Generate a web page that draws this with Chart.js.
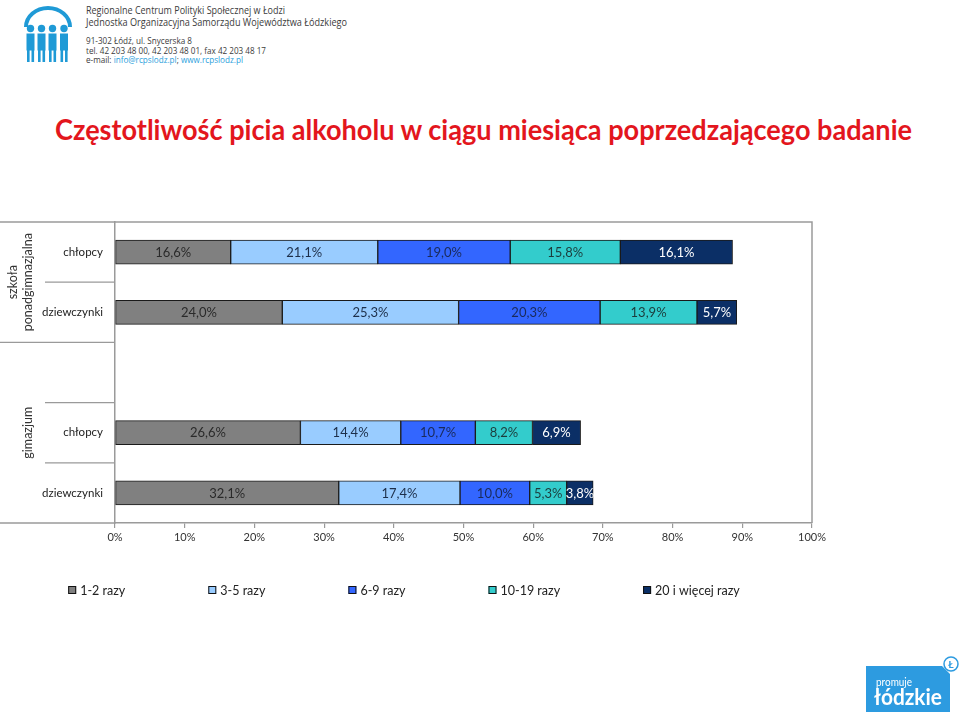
<!DOCTYPE html>
<html><head><meta charset="utf-8">
<script src="https://cdn.jsdelivr.net/npm/chart.js@4.4.0/dist/chart.umd.min.js"></script>
<style>
html,body{margin:0;padding:0;background:#fff;}
#page{position:relative;width:960px;height:716px;overflow:hidden;font-family:Lato,'Open Sans',sans-serif;background:#fff;}
#chartwrap{position:absolute;left:0;top:0;width:960px;height:716px;}
svg{position:absolute;left:0;top:0;}
</style>
</head><body>
<div id="page">
<svg id="header" width="960" height="160" viewBox="0 0 960 160">
  <g fill="#1f9ad6" stroke="none">
    <path d="M26,27 A22,19 0 0 1 70,27" fill="none" stroke="#1f9ad6" stroke-width="4"/>
    <circle cx="30.5" cy="28.5" r="3.7"/><circle cx="41.5" cy="28.5" r="3.7"/><circle cx="52.5" cy="28.5" r="3.7"/><circle cx="64" cy="28.5" r="3.7"/>
    <rect x="26.5" y="33.5" width="8" height="17"/><rect x="37.5" y="33.5" width="8" height="17"/><rect x="48.5" y="33.5" width="8" height="17"/><rect x="60" y="33.5" width="8" height="17"/>
    <rect x="27" y="50" width="2.6" height="12"/><rect x="31.5" y="50" width="2.6" height="12"/>
    <rect x="38" y="50" width="2.6" height="12"/><rect x="42.5" y="50" width="2.6" height="12"/>
    <rect x="49" y="50" width="2.6" height="12"/><rect x="53.5" y="50" width="2.6" height="12"/>
    <rect x="60.5" y="50" width="2.6" height="12"/><rect x="65" y="50" width="2.6" height="12"/>
  </g>
  <g font-family="'Open Sans',Lato,sans-serif" fill="#3c3c3c">
    <text x="86" y="14" font-size="10.5" textLength="199" lengthAdjust="spacingAndGlyphs">Regionalne Centrum Polityki Społecznej w Łodzi</text>
    <text x="86" y="26" font-size="10.5" textLength="261" lengthAdjust="spacingAndGlyphs">Jednostka Organizacyjna Samorządu Województwa Łódzkiego</text>
    <text x="86" y="44" font-size="8.5" textLength="106" lengthAdjust="spacingAndGlyphs">91-302 Łódź, ul. Snycerska 8</text>
    <text x="86" y="53.5" font-size="8.5" textLength="180" lengthAdjust="spacingAndGlyphs">tel.  42 203 48 00, 42 203 48 01, fax 42 203 48 17</text>
    <text x="86" y="63" font-size="8.5" textLength="157" lengthAdjust="spacingAndGlyphs">e-mail: <tspan fill="#2aa0dc">info@rcpslodz.pl</tspan>; <tspan fill="#2aa0dc">www.rcpslodz.pl</tspan></text>
  </g>
  <text x="55" y="140" font-family="Lato,'Open Sans',sans-serif" font-weight="bold" font-size="28.5" fill="#e3161d" textLength="857" lengthAdjust="spacingAndGlyphs">Częstotliwość picia alkoholu w ciągu miesiąca poprzedzającego badanie</text>
</svg>
<div id="chartwrap"><canvas id="c" width="960" height="716"></canvas></div>
<svg width="960" height="716" viewBox="0 0 960 716" style="pointer-events:none">
  <path d="M866,666 L942,666 L950,674 L950,712 L866,712 Z" fill="#2d9be0"/>
  <circle cx="951" cy="664" r="7" fill="#fff" stroke="#2d9be0" stroke-width="1.5"/>
  <text x="951" y="668" font-family="Lato,sans-serif" font-weight="bold" font-size="10" fill="#2d9be0" text-anchor="middle">Ł</text>
  <text x="876" y="686" font-family="Lato,sans-serif" font-size="11" fill="#fff" textLength="36" lengthAdjust="spacingAndGlyphs">promuje</text>
  <text x="874" y="705" font-family="Lato,sans-serif" font-weight="bold" font-size="22" fill="#fff" textLength="68" lengthAdjust="spacingAndGlyphs">łódzkie</text>
</svg>
</div>
<script>
// ---- data ----
const categories = ['chłopcy', 'dziewczynki', '', 'chłopcy', 'dziewczynki'];
const groupLabels = [['szkoła', 'ponadgimnazjalna'], ['gimazjum']];
const groupSizes = [2, 3];
const seriesNames = ['1-2 razy', '3-5 razy', '6-9 razy', '10-19 razy', '20 i więcej razy'];
const s1_2 = [16.6, 24.0, null, 26.6, 32.1];
const s3_5 = [21.1, 25.3, null, 14.4, 17.4];
const s6_9 = [19.0, 20.3, null, 10.7, 10.0];
const s10_19 = [15.8, 13.9, null, 8.2, 5.3];
const s20 = [16.1, 5.7, null, 6.9, 3.8];
const xTickValues = [0, 10, 20, 30, 40, 50, 60, 70, 80, 90, 100];

// ---- styles ----
const fills = ['#808080', '#99ccff', '#3366ff', '#33cccc', '#0b2f66'];
const labelColors = ['#2a2a2a', '#1d2f4a', '#1a2a5a', '#1c3c3c', '#ffffff'];
const FONT = "Lato, 'Open Sans', sans-serif";
const frameColor = '#9a9a9a';

const seriesData = [s1_2, s3_5, s6_9, s10_19, s20];
const datasets = seriesData.map((d, i) => ({
  label: seriesNames[i],
  data: d,
  backgroundColor: fills[i],
  borderColor: '#1a1a1a',
  borderWidth: 1,
  borderSkipped: false,
  barThickness: 24
}));

const fmt = v => v.toFixed(1).replace('.', ',') + '%';

const decorPlugin = {
  id: 'decor',
  beforeDraw(chart) {
    const ctx = chart.ctx, ca = chart.chartArea, y = chart.scales.y;
    ctx.save();
    ctx.strokeStyle = frameColor;
    ctx.lineWidth = 1.5;
    ctx.beginPath();
    ctx.moveTo(0, ca.top); ctx.lineTo(ca.right, ca.top); ctx.lineTo(ca.right, ca.bottom);
    ctx.moveTo(0, ca.bottom); ctx.lineTo(ca.left, ca.bottom);
    ctx.stroke();
    ctx.lineWidth = 1.2;
    const n = categories.length;
    let groupEnds = []; let acc = 0;
    groupSizes.forEach(s => { acc += s; groupEnds.push(acc); });
    ctx.beginPath();
    for (let i = 1; i < n; i++) {
      const yy = (y.getPixelForValue(i - 1) + y.getPixelForValue(i)) / 2;
      const full = groupEnds.includes(i);
      ctx.moveTo(full ? 0 : 45, yy); ctx.lineTo(ca.left, yy);
    }
    ctx.stroke();
    ctx.fillStyle = '#333';
    ctx.font = '12.5px ' + FONT;
    ctx.textAlign = 'center';
    ctx.textBaseline = 'middle';
    const step = y.getPixelForValue(1) - y.getPixelForValue(0);
    let start = 0;
    groupSizes.forEach((s, gi) => {
      const top = y.getPixelForValue(start) - step / 2;
      const bot = y.getPixelForValue(start + s - 1) + step / 2;
      const cy = (top + bot) / 2;
      const lines = groupLabels[gi];
      ctx.save();
      ctx.translate(28, cy);
      ctx.rotate(-Math.PI / 2);
      lines.forEach((t, li) => {
        const off = (li - (lines.length - 1)) * 15;
        ctx.fillText(t, 0, off);
      });
      ctx.restore();
      start += s;
    });
    ctx.restore();
  },
  afterDatasetsDraw(chart) {
    const ctx = chart.ctx;
    ctx.save();
    ctx.font = '13px ' + FONT;
    ctx.textAlign = 'center';
    ctx.textBaseline = 'middle';
    chart.data.datasets.forEach((ds, di) => {
      const meta = chart.getDatasetMeta(di);
      meta.data.forEach((el, i) => {
        const v = ds.data[i];
        if (v === null || v === undefined) return;
        const p = el.getProps(['x', 'y', 'base'], true);
        ctx.fillStyle = labelColors[di];
        ctx.fillText(fmt(v), (p.x + p.base) / 2, p.y + 0.5);
      });
    });
    // legend
    ctx.font = '12.5px ' + FONT;
    const items = chart.data.datasets.map((ds, i) => ({ text: ds.label, color: fills[i] }));
    const box = 8, gapText = 4, gap = 83;
    ctx.textAlign = 'left';
    const widths = items.map(it => box + gapText + ctx.measureText(it.text).width);
    const total = widths.reduce((a, b) => a + b, 0) + gap * (items.length - 1);
    let x = 404 - total / 2;
    const ly = 590;
    items.forEach((it, i) => {
      ctx.fillStyle = it.color;
      ctx.fillRect(x, ly - box / 2, box, box);
      ctx.strokeStyle = '#111';
      ctx.lineWidth = 1;
      ctx.strokeRect(x + 0.5, ly - box / 2 + 0.5, box - 1, box - 1);
      ctx.fillStyle = '#222';
      ctx.fillText(it.text, x + box + gapText, ly + 0.5);
      x += widths[i] + gap;
    });
    ctx.restore();
  }
};

new Chart(document.getElementById('c'), {
  type: 'bar',
  data: { labels: categories, datasets },
  options: {
    indexAxis: 'y',
    responsive: false,
    animation: false,
    layout: { padding: { left: 0, right: 148, top: 222, bottom: 163 } },
    plugins: { legend: { display: false }, tooltip: { enabled: false }, title: { display: false } },
    scales: {
      x: {
        stacked: true,
        min: 0, max: 100,
        afterBuildTicks: s => { s.ticks = xTickValues.map(v => ({ value: v })); },
        afterFit: s => { s.height = 30; },
        grid: { drawOnChartArea: false, drawTicks: true, tickLength: 5, color: frameColor, lineWidth: 1.2 },
        border: { display: true, color: frameColor, width: 1.5 },
        ticks: { callback: v => v + '%', font: { family: FONT, size: 11 }, color: '#333', padding: 3, maxRotation: 0 }
      },
      y: {
        stacked: true,
        afterFit: s => { s.width = 115; },
        grid: { display: false },
        border: { display: true, color: frameColor, width: 1.5 },
        ticks: { font: { family: FONT, size: 11.5 }, color: '#222', padding: 4 }
      }
    }
  },
  plugins: [decorPlugin]
});
</script>
</body></html>
